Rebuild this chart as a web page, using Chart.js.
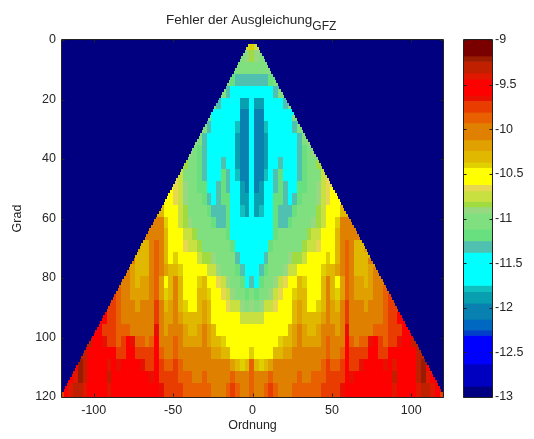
<!DOCTYPE html>
<html><head><meta charset="utf-8">
<style>html,body{margin:0;padding:0;background:#fff}canvas{position:absolute;left:0;top:0}#w{position:relative;width:534px;height:439px;overflow:hidden}</style>
<script src="https://cdn.jsdelivr.net/npm/chart.js@4"></script>
</head><body><div id="w"><canvas id="main" width="534" height="439"></canvas><canvas id="bar" width="534" height="439"></canvas></div>
<script>
const titleMain='Fehler der Ausgleichung', titleSub='GFZ';
const xLabel='Ordnung', yLabel='Grad';
const xTicks=[-100,-50,0,50,100], yTicks=[0,20,40,60,80,100,120];
// colour bar bands, from top (-9) to bottom (-13)
const bandEdges=[-9,-9.18,-9.24,-9.37,-9.44,-9.62,-9.68,-9.81,-9.93,-10.12,-10.24,-10.37,-10.43,-10.62,-10.69,-10.81,-10.87,-10.94,-11.12,-11.25,-11.38,-11.75,-11.82,-11.95,-12.13,-12.25,-12.31,-12.63,-12.88,-13];
const bandColors=['#7a0000','#9a1c00','#c02000','#e01800','#ff0000','#e81000','#e83c00','#e86000','#e08000','#e0a000','#e0b800','#e0d000','#ffff00','#e8d850','#c8e040','#a0dc40','#98d880','#80e080','#68e080','#50c0b0','#00ffff','#10c0c0','#08a0b0','#0880b0','#0068c0','#0040c8','#0000ff','#0000c0','#000080'];
// field values; each list is one 4-degree block, read at |order| = 0,3,6,...
const grad0=[-10.4,-10.75];
const grad4=[-10.85,-10.9,-10.95];
const grad8=[-11.0,-11.05,-11.1,-11.05,-10.95];
const grad12=[-11.3,-11.3,-11.35,-11.35,-11.2,-11.0];
const grad16=[-11.5,-11.5,-11.6,-11.6,-11.5,-11.35,-11.05];
const grad20=[-11.6,-11.9,-11.95,-11.7,-11.5,-11.5,-11.5,-11.35,-11.05];
const grad24=[-11.55,-12.0,-12.0,-11.75,-11.55,-11.5,-11.5,-11.5,-11.4,-11.1];
const grad28=[-11.5,-12.05,-12.05,-11.8,-11.6,-11.5,-11.5,-11.5,-11.45,-11.3,-11.05];
const grad32=[-11.5,-12.05,-12.1,-11.85,-11.6,-11.5,-11.45,-11.5,-11.5,-11.4,-11.3,-11.1,-10.9];
const grad36=[-11.55,-12.1,-12.1,-11.85,-11.55,-11.45,-11.45,-11.5,-11.5,-11.45,-11.35,-11.2,-11.05,-10.9];
const grad40=[-11.6,-12.05,-12.05,-11.85,-11.5,-11.4,-11.3,-11.5,-11.55,-11.45,-11.3,-11.2,-11.1,-11.0,-10.85];
const grad44=[-11.6,-12.0,-12.0,-11.8,-11.55,-11.35,-11.25,-11.45,-11.55,-11.5,-11.3,-11.15,-11.1,-11.0,-10.95,-10.8,-10.65];
const grad48=[-11.6,-12.0,-11.95,-11.7,-11.55,-11.3,-11.2,-11.35,-11.5,-11.45,-11.25,-11.15,-11.05,-11.0,-10.9,-10.8,-10.65,-10.55];
const grad52=[-11.6,-11.95,-11.9,-11.6,-11.5,-11.25,-11.15,-11.3,-11.45,-11.35,-11.2,-11.1,-11.05,-10.95,-10.9,-10.8,-10.65,-10.5,-10.45];
const grad56=[-11.55,-11.9,-11.8,-11.55,-11.5,-11.25,-11.3,-11.35,-11.3,-11.25,-11.1,-11.05,-11.0,-10.95,-10.85,-10.75,-10.6,-10.5,-10.45,-10.3,-10.35];
const grad60=[-11.55,-11.75,-11.7,-11.5,-11.45,-11.25,-11.3,-11.3,-11.2,-11.1,-11.05,-11.0,-10.95,-10.9,-10.85,-10.7,-10.5,-10.6,-10.4,-10.1,-10.0,-10.1];
const grad64=[-11.55,-11.6,-11.55,-11.5,-11.4,-11.2,-11.1,-11.1,-11.05,-11.05,-11.0,-10.95,-10.85,-10.8,-10.75,-10.55,-10.5,-10.55,-10.35,-10.1,-9.95,-10.05,-10.1];
const grad68=[-11.55,-11.55,-11.5,-11.45,-11.25,-11.1,-11.05,-11.05,-11.0,-10.95,-10.95,-10.85,-10.75,-10.7,-10.65,-10.5,-10.45,-10.5,-10.35,-10.1,-9.9,-10.05,-10.25,-10.3,-10.15];
const grad72=[-11.55,-11.5,-11.45,-11.3,-11.1,-11.0,-11.0,-11.0,-10.9,-10.85,-10.85,-10.75,-10.6,-10.55,-10.55,-10.5,-10.4,-10.45,-10.3,-10.05,-9.85,-10.05,-10.3,-10.35,-10.25,-10.05];
const grad76=[-11.5,-11.4,-11.3,-11.15,-11.05,-11.0,-10.95,-10.9,-10.8,-10.7,-10.6,-10.55,-10.5,-10.5,-10.45,-10.4,-10.3,-10.3,-10.2,-10.0,-9.85,-10.05,-10.25,-10.3,-10.3,-10.15,-10.0];
const grad80=[-11.3,-11.45,-11.2,-11.05,-11.0,-10.9,-10.75,-10.65,-10.55,-10.45,-10.3,-10.4,-10.5,-10.55,-10.5,-10.3,-10.05,-10.3,-10.45,-10.15,-9.85,-10.1,-10.2,-10.2,-10.25,-10.15,-10.05,-9.95,-9.85];
const grad84=[-11.1,-11.2,-11.05,-10.95,-10.9,-10.8,-10.65,-10.55,-10.5,-10.4,-10.25,-10.35,-10.5,-10.5,-10.45,-10.3,-10.0,-10.25,-10.4,-10.15,-9.85,-10.1,-10.15,-10.15,-10.2,-10.15,-10.05,-10.0,-9.9,-9.8];
const grad88=[-10.9,-11.0,-10.9,-10.8,-10.75,-10.65,-10.55,-10.5,-10.5,-10.3,-10.2,-10.3,-10.45,-10.45,-10.4,-10.25,-9.95,-10.2,-10.3,-10.1,-9.75,-10.05,-10.1,-10.1,-10.15,-10.1,-10.05,-10.0,-9.9,-9.8,-9.7];
const grad92=[-10.75,-10.8,-10.7,-10.6,-10.55,-10.55,-10.5,-10.45,-10.45,-10.25,-10.15,-10.25,-10.35,-10.35,-10.3,-10.2,-9.95,-10.15,-10.2,-10.05,-9.7,-10.0,-10.05,-10.05,-10.1,-10.05,-10.0,-9.95,-9.9,-9.8,-9.75,-9.6,-9.55];
const grad96=[-10.6,-10.6,-10.55,-10.5,-10.5,-10.5,-10.5,-10.45,-10.35,-10.2,-10.1,-10.2,-10.25,-10.25,-10.2,-10.1,-9.95,-10.1,-10.15,-10.0,-9.65,-9.95,-10.0,-10.0,-10.0,-9.95,-9.85,-9.9,-9.9,-9.8,-9.75,-9.7,-9.6,-9.5];
const grad100=[-10.5,-10.5,-10.5,-10.5,-10.5,-10.45,-10.4,-10.35,-10.25,-10.15,-10.05,-10.15,-10.2,-10.2,-10.15,-10.05,-9.9,-10.05,-10.05,-9.95,-9.6,-9.9,-9.95,-9.9,-9.85,-9.65,-9.6,-9.8,-9.85,-9.75,-9.7,-9.65,-9.55,-9.5,-9.3];
const grad104=[-10.4,-10.5,-10.5,-10.45,-10.45,-10.35,-10.25,-10.2,-10.15,-10.1,-10.05,-10.1,-10.1,-10.1,-10.05,-10.0,-9.85,-9.95,-9.95,-9.85,-9.6,-9.8,-9.8,-9.75,-9.7,-9.55,-9.5,-9.7,-9.75,-9.6,-9.6,-9.55,-9.55,-9.5,-9.5,-9.35,-9.25];
const grad108=[-9.9,-10.35,-10.4,-10.3,-10.2,-10.1,-10.05,-10.05,-10.05,-10.0,-9.95,-10.0,-10.0,-10.0,-9.95,-9.9,-9.8,-9.9,-9.85,-9.75,-9.55,-9.75,-9.7,-9.65,-9.6,-9.5,-9.45,-9.6,-9.65,-9.55,-9.4,-9.5,-9.55,-9.55,-9.5,-9.35,-9.2,-9.5];
const grad112=[-9.85,-10.05,-10.1,-10.0,-9.85,-9.95,-10.0,-10.0,-10.0,-9.95,-9.9,-9.95,-9.95,-9.9,-9.9,-9.85,-9.75,-9.8,-9.8,-9.7,-9.55,-9.65,-9.6,-9.55,-9.55,-9.5,-9.45,-9.55,-9.55,-9.5,-9.35,-9.5,-9.55,-9.55,-9.55,-9.35,-9.2,-9.4,-9.6];
const grad116=[-9.85,-9.95,-10.0,-9.85,-9.8,-9.9,-9.95,-9.95,-9.95,-9.9,-9.85,-9.9,-9.9,-9.85,-9.85,-9.8,-9.7,-9.75,-9.75,-9.65,-9.55,-9.6,-9.6,-9.55,-9.5,-9.5,-9.5,-9.55,-9.55,-9.5,-9.4,-9.5,-9.55,-9.55,-9.55,-9.4,-9.25,-9.3,-9.4,-9.55,-9.7];
const gradBlocks=[grad0,grad4,grad8,grad12,grad16,grad20,grad24,grad28,grad32,grad36,grad40,grad44,grad48,grad52,grad56,grad60,grad64,grad68,grad72,grad76,grad80,grad84,grad88,grad92,grad96,grad100,grad104,grad108,grad112,grad116];

const FONT='"Liberation Sans",Arial,sans-serif', TXT='#262626';
function bandIndex(v){for(let i=0;i<bandColors.length;i++){if(v>=bandEdges[i+1])return i;}return bandColors.length-1;}
const swatches=bandColors.map(c=>{const s=document.createElement('canvas');s.width=3;s.height=4;const g=s.getContext('2d');g.fillStyle=c;g.fillRect(0,0,3,4);return s;});
const cells=[],styles=[];
for(let n=2;n<=120;n++){const row=gradBlocks[Math.min(Math.floor(n/4),29)];
  for(let m=-n;m<=n;m++){const v=row[Math.min(Math.round(Math.abs(m)/3),row.length-1)];cells.push({x:m,y:n,v});styles.push(swatches[bandIndex(v)]);}}
const frame={id:'frame',
  beforeDatasetsDraw(c,a,o){if(!o.fill)return;const A=c.chartArea;c.ctx.fillStyle=o.fill;c.ctx.fillRect(A.left,A.top,A.right-A.left,A.bottom-A.top);},
  afterDatasetsDraw(c){const A=c.chartArea,x=c.ctx;x.save();x.strokeStyle='#222';x.lineWidth=1;x.beginPath();
    const L=Math.round(A.left)+.5,R=Math.round(A.right)+.5,T=Math.round(A.top)+.5,B=Math.round(A.bottom)+.5;
    x.rect(L-1,T-1,R-L+1,B-T+1);
    for(const id in c.scales){const s=c.scales[id];if(s.type==='category')continue;
      s.ticks.forEach(t=>{const p=Math.round(s.getPixelForValue(t.value))+.5;
        if(s.isHorizontal()){x.moveTo(p,B-1);x.lineTo(p,B-4);x.moveTo(p,T-1);x.lineTo(p,T+2);}
        else{x.moveTo(L-1,p);x.lineTo(L+2,p);x.moveTo(R,p);x.lineTo(R-3,p);}});}
    x.stroke();x.restore();}
};
const titler={id:'titler',afterDraw(c){const x=c.ctx;x.save();x.fillStyle=TXT;x.textBaseline='alphabetic';x.textAlign='left';
  x.font='13.5px '+FONT;x.fillText(titleMain,166,24);const w=x.measureText(titleMain).width;
  x.font='12px '+FONT;x.fillText(titleSub,166+w,30);x.restore();}};
const tickFont={family:FONT,size:12.5};
new Chart(document.getElementById('main'),{type:'scatter',
  data:{datasets:[{data:cells,pointStyle:styles,pointRadius:1,pointHoverRadius:1,showLine:false,borderWidth:0}]},
  plugins:[frame,titler],
  options:{responsive:false,animation:false,events:[],
    layout:{padding:{top:40,right:91,left:0,bottom:0}},
    plugins:{legend:{display:false},tooltip:{enabled:false},frame:{fill:'#000080'}},
    scales:{
      x:{type:'linear',min:-120,max:120,afterBuildTicks(s){s.ticks=xTicks.map(value=>({value}));},
        grid:{display:false,drawTicks:false},border:{display:false},
        ticks:{font:tickFont,color:TXT,padding:6,maxRotation:0,autoSkip:false},
        title:{display:true,text:xLabel,font:tickFont,color:TXT,padding:{top:2,bottom:6}},
        afterFit(s){s.height=42;}},
      y:{type:'linear',reverse:true,min:0,max:120,afterBuildTicks(s){s.ticks=yTicks.map(value=>({value}));},
        grid:{display:false,drawTicks:false},border:{display:false},
        ticks:{font:tickFont,color:TXT,padding:6,autoSkip:false},
        title:{display:true,text:yLabel,font:tickFont,color:TXT,padding:{top:10,bottom:0}},
        afterFit(s){s.width=62;}}
    }}});
const barSets=bandColors.map((c,i)=>({data:[[bandEdges[i+1],bandEdges[i]]],backgroundColor:c,borderWidth:0,barPercentage:1,categoryPercentage:1,grouped:false}));
new Chart(document.getElementById('bar'),{type:'bar',
  data:{labels:['Wert'],datasets:barSets},
  plugins:[frame],
  options:{responsive:false,animation:false,events:[],
    layout:{padding:{top:40,left:464,right:0,bottom:42}},
    plugins:{legend:{display:false},tooltip:{enabled:false},frame:{}},
    scales:{
      x:{display:false},
      y:{position:'right',min:-13,max:-9,ticks:{stepSize:0.5,font:tickFont,color:TXT,padding:3,callback:v=>String(v)},
        grid:{display:false,drawTicks:false},border:{display:false},afterFit(s){s.width=42;}}
    }}});
</script></body></html>
